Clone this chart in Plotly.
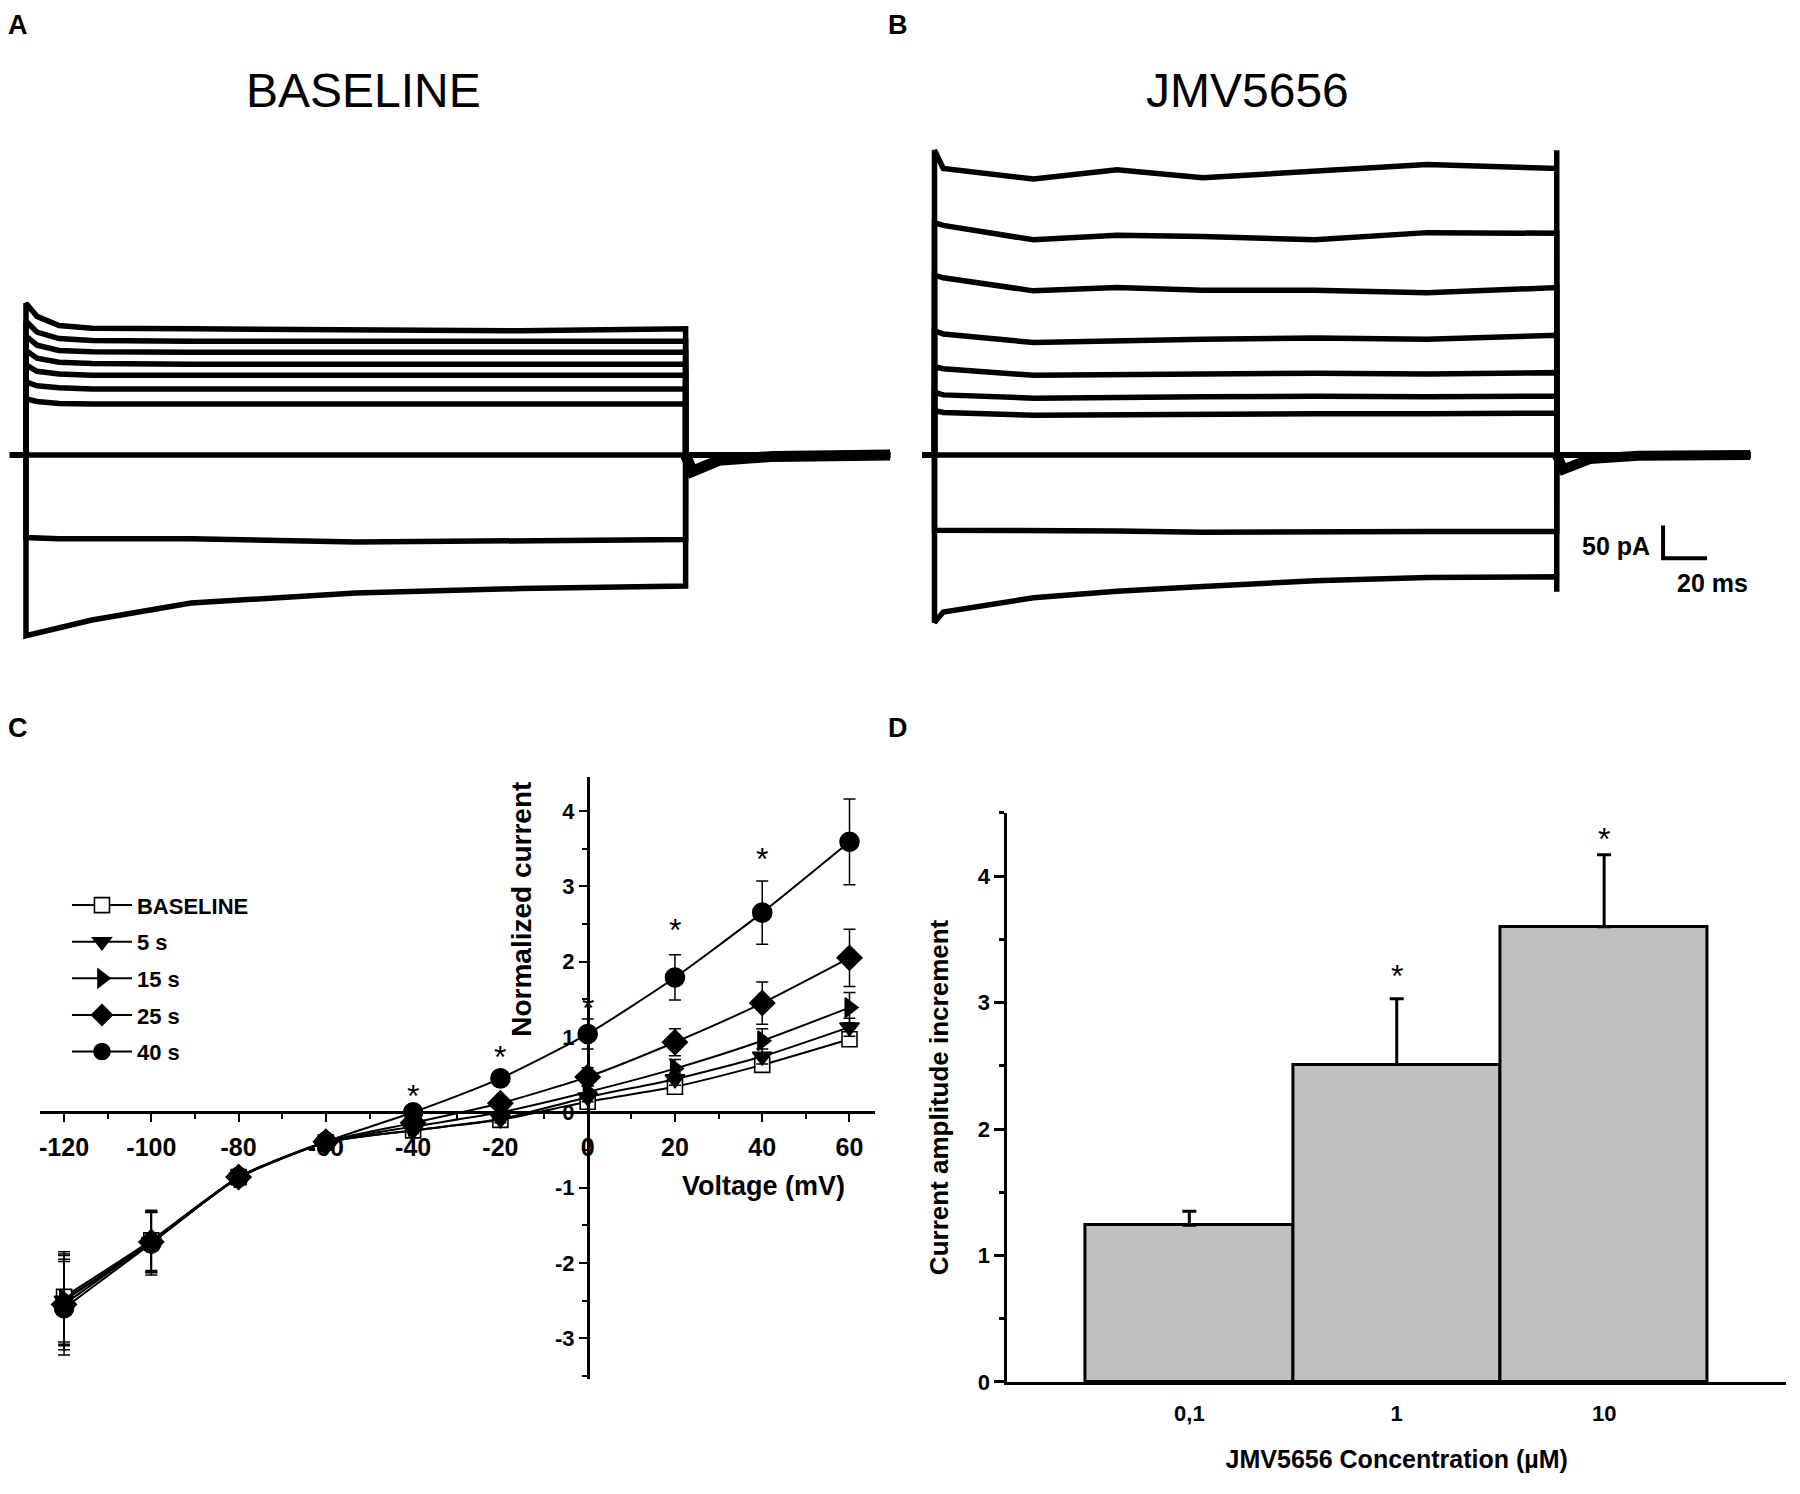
import plotly.graph_objects as go

# ---- panel A / B : current traces (time in ms, current in pA, holding = 0) ----
a_times = [0, 5, 15, 30, 75, 150, 225, 300]
a_traces = [
    [232, 212, 198, 194, 193, 192, 190, 193],
    [205, 188, 178, 175, 174, 174, 172, 174],
    [182, 168, 160, 158, 157, 157, 156, 157],
    [160, 148, 142, 140, 139, 139, 139, 139],
    [138, 128, 124, 122, 122, 122, 121, 122],
    [112, 106, 103, 101, 101, 101, 100, 101],
    [86, 82, 79, 78, 78, 77, 78, 78],
    [2, 1, 0, 0, 0, 0, 0, 0],
    [-126, -127, -128, -128, -128, -133, -131, -129],
    [-276, -272, -265, -252, -226, -211, -204, -200],
]
a_hold = [-7.3, 393]
a_tail_t = [300, 303, 315, 340, 393]
a_tail_i = [0, -25, -8, -2, 0]

b_times = [0, 4, 45, 83, 122, 173, 224, 283, 283]
b_traces = [
    [466, 438, 422, 436, 424, 433, 444, 438, 466],
    [355, 351, 329, 336, 334, 329, 340, 339, 339],
    [275, 271, 251, 256, 252, 252, 248, 256, 256],
    [190, 185, 172, 175, 177, 179, 177, 183, 183],
    [135, 132, 122, 123, 124, 125, 124, 126, 126],
    [96, 92, 87, 89, 89, 90, 89, 90, 90],
    [68, 65, 61, 62, 63, 63, 63, 64, 64],
    [1, 0, 0, 0, 0, 0, 0, 0, 0],
    [-115, -115, -117, -116, -118, -117, -117, -117, -117],
    [-256, -240, -218, -208, -201, -192, -187, -186, -209],
]
b_hold = [-5.5, 371]
b_tail_t = [283, 286, 298, 320, 371]
b_tail_i = [0, -22, -6, -1, 0]

scale_ms = 20
scale_pa = 50

# ---- panel C : I-V curves ----
voltage = [-120, -100, -80, -60, -40, -20, 0, 20, 40, 60]
current_ticks = [-3, -2, -1, 0, 1, 2, 3, 4]
iv_names = ["BASELINE", "5 s", "15 s", "25 s", "40 s"]
iv_means = [
    [-2.45, -1.70, -0.86, -0.40, -0.24, -0.10, 0.14, 0.34, 0.63, 0.97],
    [-2.50, -1.72, -0.87, -0.40, -0.24, -0.09, 0.20, 0.44, 0.74, 1.13],
    [-2.48, -1.73, -0.87, -0.40, -0.19, 0.00, 0.27, 0.58, 0.95, 1.39],
    [-2.55, -1.72, -0.86, -0.39, -0.14, 0.12, 0.47, 0.93, 1.45, 2.05],
    [-2.60, -1.74, -0.86, -0.39, 0.00, 0.45, 1.04, 1.79, 2.65, 3.59],
]
iv_errs = [
    [0.60, 0.40, 0.08, 0.06, 0.04, 0.04, 0.04, 0.06, 0.07, 0.08],
    [0.60, 0.40, 0.08, 0.06, 0.04, 0.05, 0.06, 0.08, 0.10, 0.12],
    [0.60, 0.40, 0.08, 0.06, 0.05, 0.06, 0.08, 0.12, 0.16, 0.20],
    [0.60, 0.40, 0.08, 0.06, 0.05, 0.08, 0.12, 0.18, 0.28, 0.38],
    [0.62, 0.42, 0.08, 0.06, 0.06, 0.10, 0.20, 0.30, 0.42, 0.57],
]
star_v = [-40, -20, 0, 20, 40, 60]
star_c = [0.32, 0.84, 1.49, 2.52, 3.47, 4.55]

# ---- panel D : bars ----
conc = ["0,1", "1", "10"]
increment = [1.24, 2.51, 3.60]
increment_err = [0.11, 0.52, 0.57]
star_conc = ["1", "10"]
star_d = [3.27, 4.36]

W, H = 1800, 1494
OX = -8  # page offset correction
FONT = "Liberation Sans, Arial, sans-serif"


def fx(px):
    return (px + OX) / W


def fy(py):
    return 1 - py / H


MS_PER_PX = scale_ms / 44
PA_PER_PX = scale_pa / 33

fig = go.Figure()

# traces A
for vals in a_traces:
    fig.add_trace(go.Scatter(
        x=[a_hold[0], a_times[0]] + a_times + [a_times[-1], a_hold[1]],
        y=[0, 0] + vals + [0, 0],
        mode="lines", line=dict(color="black", width=5.5),
        xaxis="x", yaxis="y", showlegend=False, hoverinfo="skip"))
fig.add_trace(go.Scatter(x=a_tail_t, y=a_tail_i, mode="lines",
                         line=dict(color="black", width=11),
                         xaxis="x", yaxis="y", showlegend=False))

# traces B
for vals in b_traces:
    fig.add_trace(go.Scatter(
        x=[b_hold[0], b_times[0]] + b_times + [b_times[-1], b_hold[1]],
        y=[0, 0] + vals + [0, 0],
        mode="lines", line=dict(color="black", width=5.5),
        xaxis="x2", yaxis="y2", showlegend=False, hoverinfo="skip"))
fig.add_trace(go.Scatter(x=b_tail_t, y=b_tail_i, mode="lines",
                         line=dict(color="black", width=10),
                         xaxis="x2", yaxis="y2", showlegend=False))

# scale bar in B
sb_t0 = (1663 - 934) * MS_PER_PX
sb_i0 = (451 - 555) * PA_PER_PX
fig.add_trace(go.Scatter(
    x=[sb_t0, sb_t0, sb_t0 + scale_ms],
    y=[sb_i0 + scale_pa, sb_i0, sb_i0],
    mode="lines", line=dict(color="black", width=4),
    xaxis="x2", yaxis="y2", showlegend=False))

# panel C
symbols = ["square", "triangle-down", "triangle-right", "diamond", "circle"]
fills = ["white", "black", "black", "black", "black"]
sizes = [15, 17, 17, 19, 19]
for name, m, e, sym, fc, sz in zip(iv_names, iv_means, iv_errs, symbols, fills, sizes):
    fig.add_trace(go.Scatter(
        x=voltage, y=m, name=name, legendgroup=name,
        mode="lines+markers",
        line=dict(color="black", width=2, shape="spline", smoothing=0.6),
        marker=dict(symbol=sym, size=sz, color=fc, line=dict(color="black", width=1.6)),
        error_y=dict(type="data", array=e, visible=True, color="black", thickness=1.5, width=6),
        xaxis="x3", yaxis="y3"))

# panel D
fig.add_trace(go.Bar(
    x=conc, y=increment, width=1,
    marker=dict(color="#c0c0c0", line=dict(color="black", width=3)),
    error_y=dict(type="data", array=increment_err, arrayminus=[0, 0, 0],
                 visible=True, color="black", thickness=3, width=7),
    xaxis="x4", yaxis="y4", showlegend=False))

star_font = dict(family=FONT, size=32, color="black")
annotations = []
for v, c in zip(star_v, star_c):
    annotations.append(dict(x=v, y=c, xref="x3", yref="y3", text="*", showarrow=False,
                            xanchor="center", yanchor="middle", yshift=-8, font=star_font))
for k, c in zip(star_conc, star_d):
    annotations.append(dict(x=conc.index(k), y=c, xref="x4", yref="y4", text="*", showarrow=False,
                            xanchor="center", yanchor="middle", yshift=-8, font=star_font))


def paper_text(text, px, py, size, bold=True, angle=0, yanchor="middle"):
    return dict(x=fx(px), y=fy(py), xref="paper", yref="paper", text=text,
                xanchor="center", yanchor=yanchor, textangle=angle, showarrow=False,
                font=dict(family=FONT, size=size, color="black",
                          weight="bold" if bold else "normal"))


for letter, px, py in [("A", 17, 0), ("B", 897, 0)]:
    annotations.append(paper_text(letter, px, py, 27, yanchor="top"))
for letter, px, py in [("C", 17, 726), ("D", 897, 726)]:
    annotations.append(paper_text(letter, px, py, 27))
annotations.append(paper_text("BASELINE", 363, 83, 48, bold=False))
annotations.append(paper_text("JMV5656", 1247, 83, 48, bold=False))
annotations.append(paper_text("50 pA", 1616, 543, 25))
annotations.append(paper_text("20 ms", 1712, 580, 25))
annotations.append(paper_text("Normalized current", 520, 909, 28, angle=-90))
annotations.append(paper_text("Voltage (mV)", 763, 1188, 27))

hidden = dict(visible=False, showgrid=False, zeroline=False)
ab_range = [-(660 - 451) * PA_PER_PX, (451 - 100) * PA_PER_PX]

c_zero_x, c_px_mv = 587, 4.366
c_zero_y, c_px_unit = 1114, 76
tickfont_c_x = dict(family=FONT, size=25, color="black", weight="bold")
tickfont_c_y = dict(family=FONT, size=22, color="black", weight="bold")
tickfont_d = dict(family=FONT, size=22, color="black", weight="bold")

fig.update_layout(
    width=W, height=H,
    margin=dict(l=0, r=0, t=0, b=0),
    paper_bgcolor="white", plot_bgcolor="white",
    font=dict(family=FONT, color="black"),
    bargap=0,
    xaxis=dict(hidden, domain=[fx(8), fx(895)], range=[(8 - 25) * MS_PER_PX, (895 - 25) * MS_PER_PX]),
    yaxis=dict(hidden, domain=[fy(660), fy(100)], range=ab_range),
    xaxis2=dict(hidden, domain=[fx(900), fx(1800)], range=[(900 - 934) * MS_PER_PX, (1800 - 934) * MS_PER_PX]),
    yaxis2=dict(hidden, domain=[fy(660), fy(100)], range=ab_range),
    xaxis3=dict(domain=[fx(39), fx(874)],
                range=[(39 - c_zero_x) / c_px_mv, (874 - c_zero_x) / c_px_mv],
                anchor="free", position=fy(c_zero_y),
                showline=True, linecolor="black", linewidth=2.5, showgrid=False, zeroline=False,
                ticks="outside", ticklen=8, tickwidth=2, tickcolor="black",
                tickvals=voltage, ticktext=[str(v) for v in voltage],
                tickfont=tickfont_c_x, ticklabelstandoff=4,
                minor=dict(dtick=10, ticks="outside", ticklen=5, tickwidth=2, tickcolor="black")),
    yaxis3=dict(domain=[fy(1383), fy(776)],
                range=[(c_zero_y - 1383) / c_px_unit, (c_zero_y - 776) / c_px_unit],
                anchor="free", position=fx(c_zero_x),
                showline=True, linecolor="black", linewidth=2.5, showgrid=False, zeroline=False,
                ticks="outside", ticklen=8, tickwidth=2, tickcolor="black",
                tickvals=current_ticks, ticktext=[str(v) for v in current_ticks],
                tickfont=tickfont_c_y,
                minor=dict(dtick=0.5, ticks="outside", ticklen=5, tickwidth=2, tickcolor="black")),
    xaxis4=dict(domain=[fx(1007), fx(1786)], range=[-0.877, 2.877], type="category",
                anchor="y4", showline=True, linecolor="black", linewidth=3, showgrid=False,
                ticks="", tickfont=tickfont_d, ticklabelstandoff=10,
                title=dict(text="JMV5656 Concentration (µM)", standoff=26,
                           font=dict(family=FONT, size=25, color="black", weight="bold"))),
    yaxis4=dict(domain=[fy(1386), fy(812)], range=[0, 4.5], anchor="x4",
                showline=True, linecolor="black", linewidth=3, showgrid=False, zeroline=False,
                ticks="outside", ticklen=10, tickwidth=2.5, tickcolor="black",
                tickvals=[0, 1, 2, 3, 4], tickfont=tickfont_d,
                minor=dict(dtick=0.5, ticks="outside", ticklen=5, tickwidth=2.5, tickcolor="black"),
                title=dict(text="Current amplitude increment", standoff=22,
                           font=dict(family=FONT, size=26, color="black", weight="bold"))),
    legend=dict(x=fx(66), y=fy(884), xanchor="left", yanchor="top",
                bgcolor="rgba(0,0,0,0)", tracegroupgap=5, itemwidth=60,
                font=dict(family=FONT, size=22, color="black", weight="bold")),
    annotations=annotations,
)

fig.write_html("out.html")
